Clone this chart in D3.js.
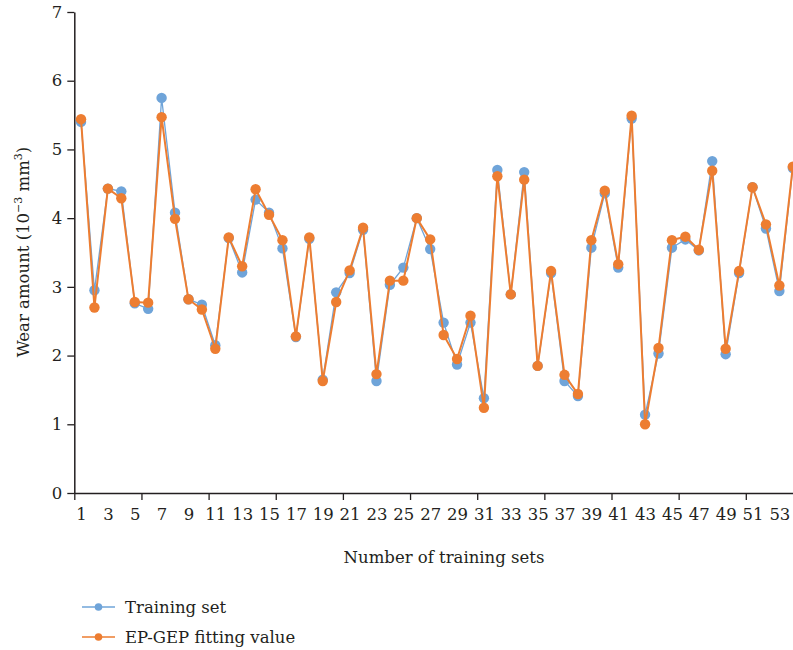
<!DOCTYPE html>
<html>
<head>
<meta charset="utf-8">
<script src="https://cdn.jsdelivr.net/npm/d3@7"></script>
<style>
  body { margin: 0; background: #fff; }
  svg text { font-family: "DejaVu Serif", "Liberation Serif", serif; fill: #231f20; }
</style>
</head>
<body>
<div id="viz"></div>
<script>
// values
var trainingSet = [5.40, 2.95, 4.43, 4.39, 2.76, 2.68, 5.75, 4.08, 2.82, 2.74,
                   2.15, 3.71, 3.21, 4.27, 4.08, 3.56, 2.27, 3.70, 1.65, 2.92,
                   3.20, 3.83, 1.63, 3.03, 3.28, 4.00, 3.55, 2.48, 1.87, 2.48,
                   1.38, 4.70, 2.89, 4.67, 1.85, 3.20, 1.63, 1.41, 3.57, 4.36,
                   3.28, 5.45, 1.14, 2.03, 3.57, 3.69, 3.53, 4.83, 2.02, 3.20,
                   4.45, 3.85, 2.94, 4.73];
var fittingValue = [5.44, 2.70, 4.43, 4.29, 2.78, 2.77, 5.47, 3.99, 2.82, 2.67,
                    2.10, 3.72, 3.30, 4.42, 4.05, 3.68, 2.28, 3.72, 1.63, 2.78,
                    3.24, 3.86, 1.73, 3.09, 3.09, 4.00, 3.69, 2.30, 1.95, 2.58,
                    1.24, 4.61, 2.89, 4.56, 1.85, 3.23, 1.72, 1.44, 3.68, 4.40,
                    3.33, 5.49, 1.00, 2.11, 3.68, 3.73, 3.54, 4.69, 2.10, 3.23,
                    4.45, 3.91, 3.02, 4.75];
var seriesNames = ["Training set", "EP-GEP fitting value"];
var yTicks = [0, 1, 2, 3, 4, 5, 6, 7];
var xLabels = d3.range(1, 55, 2);          // 1, 3, ... 53
var xBoundaries = d3.range(0.5, 51, 5);     // tick marks between categories

var colors = ["#6fa4d9", "#ed7d31"];

var width = 793, height = 650;
var svg = d3.select('#viz').append('svg')
    .attr('width', width)
    .attr('height', height);

// category k centred at x(k); axis starts at left edge of category 1
var x = d3.scaleLinear().domain([0.5, 54.5]).range([74.3, 74.3 + 54 * 13.43]);
var y = d3.scaleLinear().domain([0, 7]).range([493, 12]);

// y axis
var yAxis = svg.append('g')
    .attr('class', 'y-axis')
    .attr('transform', 'translate(' + x(0.5) + ',0)')
    .call(d3.axisLeft(y).tickValues(yTicks).tickFormat(d3.format('d'))
        .tickSize(7).tickPadding(5).tickSizeOuter(0));
yAxis.select('.domain').attr('stroke', '#231f20').attr('stroke-width', 1.5);
yAxis.selectAll('.tick line').attr('stroke', '#231f20').attr('stroke-width', 1.3);
yAxis.selectAll('text').style('font-size', '16.5px').attr('fill', '#231f20');

// x axis: tick marks at category boundaries
var xAxis = svg.append('g')
    .attr('class', 'x-axis')
    .attr('transform', 'translate(0,' + y(0) + ')')
    .call(d3.axisBottom(x).tickValues(xBoundaries).tickFormat('').tickSize(7).tickSizeOuter(0));
xAxis.select('.domain').attr('stroke', '#231f20').attr('stroke-width', 1.5);
xAxis.selectAll('.tick line').attr('stroke', '#231f20').attr('stroke-width', 1.3);

// x labels on category centres
var xLab = svg.append('g')
    .attr('transform', 'translate(0,' + y(0) + ')')
    .call(d3.axisBottom(x).tickValues(xLabels).tickSize(0).tickPadding(15));
xLab.select('.domain').remove();
xLab.selectAll('text').style('font-size', '16.5px').attr('fill', '#231f20');

// axis titles
svg.append('text')
    .attr('x', 444)
    .attr('y', 563)
    .attr('text-anchor', 'middle')
    .style('font-size', '16.5px')
    .text('Number of training sets');

var yTitle = svg.append('text')
    .attr('transform', 'translate(29,252) rotate(-90)')
    .attr('text-anchor', 'middle')
    .style('font-size', '16.5px');
yTitle.append('tspan').text('Wear amount (10');
yTitle.append('tspan').attr('dy', -7).style('font-size', '11px').text('\u22123');
yTitle.append('tspan').attr('dy', 7).text(' mm');
yTitle.append('tspan').attr('dy', -7).style('font-size', '11px').text('3');
yTitle.append('tspan').attr('dy', 7).text(')');

// series
var line = d3.line()
    .x(function(d, i) { return x(i + 1); })
    .y(function(d) { return y(d); });

var series = [trainingSet, fittingValue];
var widths = [1.3, 2];
var g = svg.append('g').attr('id', 'lines');
series.forEach(function(s, k) {
    g.append('path')
        .attr('d', line(s))
        .attr('fill', 'none')
        .attr('stroke', colors[k])
        .attr('stroke-width', widths[k]);
    g.append('g').selectAll('circle')
        .data(s)
        .enter().append('circle')
        .attr('cx', function(d, i) { return x(i + 1); })
        .attr('cy', function(d) { return y(d); })
        .attr('r', 5.2)
        .attr('fill', colors[k]);
});

// legend
var legend = svg.append('g').attr('id', 'legend');
seriesNames.forEach(function(name, k) {
    var ly = 607 + k * 30;
    legend.append('line')
        .attr('x1', 82).attr('x2', 115)
        .attr('y1', ly).attr('y2', ly)
        .attr('stroke', colors[k])
        .attr('stroke-width', 1.5);
    legend.append('circle')
        .attr('cx', 98.5).attr('cy', ly)
        .attr('r', 3.8)
        .attr('fill', colors[k]);
    legend.append('text')
        .attr('x', 125)
        .attr('y', ly + 6)
        .style('font-size', '16.5px')
        .text(name);
});
</script>
</body>
</html>
